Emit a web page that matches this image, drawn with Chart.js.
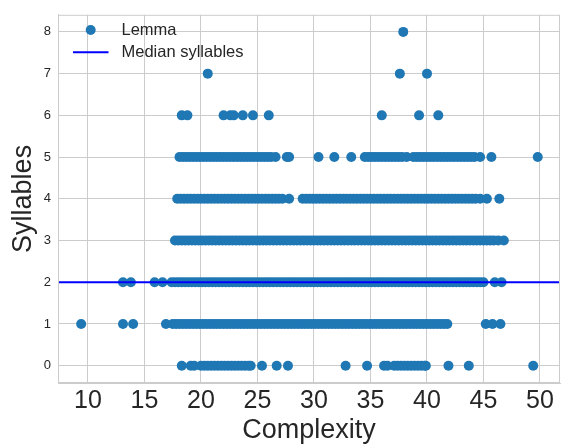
<!DOCTYPE html>
<html>
<head>
<meta charset="utf-8">
<script src="https://cdn.jsdelivr.net/npm/chart.js@4"></script>
<style>
  html, body { margin: 0; padding: 0; background: #fff; }
  #wrap { width: 565px; height: 445px; }
</style>
</head>
<body>
<div id="wrap"><canvas id="myChart" width="565" height="445"></canvas></div>
<script>
// complexity values of the lemmas, one list per syllable count
// (dense bands read as closely packed runs of points)
const syl0 = [18.3, 19.1, 19.4,
  20.0, 20.3, 20.6, 20.9, 21.2, 21.5, 21.8, 22.1, 22.4, 22.7, 23.0, 23.3, 23.6, 23.9, 24.2, 24.4,
  25.4, 26.7, 27.7, 32.8, 34.7, 36.2, 36.5,
  37.1, 37.4, 37.7, 38.0, 38.3, 38.6, 38.9, 39.2, 39.5, 39.8, 39.9,
  41.9, 43.7, 49.4];
const syl1 = [9.4, 13.1, 14.0, 16.9,
  17.5, 17.8, 18.1, 18.4, 18.7, 19.0, 19.3, 19.6, 19.9, 20.2, 20.5, 20.8, 21.1, 21.4, 21.7, 22.0,
  22.3, 22.6, 22.9, 23.2, 23.5, 23.8, 24.1, 24.4, 24.7, 25.0, 25.3, 25.6, 25.9, 26.2, 26.5, 26.8,
  27.1, 27.4, 27.7, 28.0, 28.3, 28.6, 28.9, 29.2, 29.5, 29.8, 30.1, 30.4, 30.7, 31.0, 31.3, 31.6,
  31.9, 32.2, 32.5, 32.8, 33.1, 33.4, 33.7, 34.0, 34.3, 34.6, 34.9, 35.2, 35.5, 35.8, 36.1, 36.4,
  36.7, 37.0, 37.3, 37.6, 37.9, 38.2, 38.5, 38.8, 39.1, 39.4, 39.7, 40.0, 40.3, 40.6, 40.9, 41.2,
  41.5, 41.8,
  45.2, 45.8, 46.5];
const syl2 = [13.1, 13.8, 15.9, 16.6,
  17.4, 17.7, 18.0, 18.3, 18.6, 18.9, 19.2, 19.5, 19.8, 20.1, 20.4, 20.7, 21.0, 21.3, 21.6, 21.9,
  22.2, 22.5, 22.8, 23.1, 23.4, 23.7, 24.0, 24.3, 24.6, 24.9, 25.2, 25.5, 25.8, 26.1, 26.4, 26.7,
  27.0, 27.3, 27.6, 27.9, 28.2, 28.5, 28.8, 29.1, 29.4, 29.7, 30.0, 30.3, 30.6, 30.9, 31.2, 31.5,
  31.8, 32.1, 32.4, 32.7, 33.0, 33.3, 33.6, 33.9, 34.2, 34.5, 34.8, 35.1, 35.4, 35.7, 36.0, 36.3,
  36.6, 36.9, 37.2, 37.5, 37.8, 38.1, 38.4, 38.7, 39.0, 39.3, 39.6, 39.9, 40.2, 40.5, 40.8, 41.1,
  41.4, 41.7, 42.0, 42.3, 42.6, 42.9, 43.2, 43.5, 43.8, 44.1, 44.4, 44.7, 45.0,
  46.0, 46.6];
const syl3 = [
  17.7, 18.0, 18.3, 18.6, 18.9, 19.2, 19.5, 19.8, 20.1, 20.4, 20.7, 21.0, 21.3, 21.6, 21.9,
  22.2, 22.5, 22.8, 23.1, 23.4, 23.7, 24.0, 24.3, 24.6, 24.9, 25.2, 25.5, 25.8, 26.1, 26.4, 26.7,
  27.0, 27.3, 27.6, 27.9, 28.2, 28.5, 28.8, 29.1, 29.4, 29.7, 30.0, 30.3, 30.6, 30.9, 31.2, 31.5,
  31.8, 32.1, 32.4, 32.7, 33.0, 33.3, 33.6, 33.9, 34.2, 34.5, 34.8, 35.1, 35.4, 35.7, 36.0, 36.3,
  36.6, 36.9, 37.2, 37.5, 37.8, 38.1, 38.4, 38.7, 39.0, 39.3, 39.6, 39.9, 40.2, 40.5, 40.8, 41.1,
  41.4, 41.7, 42.0, 42.3, 42.6, 42.9, 43.2, 43.5, 43.8, 44.1, 44.4, 44.7, 45.0, 45.3, 45.6, 45.9,
  46.3, 46.8];
const syl4 = [
  17.9, 18.2, 18.5, 18.8, 19.1, 19.4, 19.7, 20.0, 20.3, 20.6, 20.9, 21.2, 21.5, 21.8, 22.1, 22.4,
  22.7, 23.0, 23.3, 23.6, 23.9, 24.2, 24.5, 24.8, 25.1, 25.4, 25.7, 26.0, 26.3, 26.6, 26.9, 27.2,
  27.8,
  29.0, 29.3, 29.6, 29.9, 30.2, 30.5, 30.8, 31.1, 31.4, 31.7, 32.0, 32.3, 32.6, 32.9, 33.2, 33.5,
  33.8, 34.1, 34.4, 34.7, 35.0, 35.3, 35.6, 35.9, 36.2, 36.5, 36.8, 37.1, 37.4, 37.7, 38.0, 38.3,
  38.6, 38.9, 39.2, 39.5, 39.8, 40.1, 40.4, 40.7, 41.0, 41.3, 41.6, 41.9, 42.2, 42.5, 42.8, 43.1,
  43.4, 43.7, 44.0, 44.3, 44.7,
  45.3, 46.4];
const syl5 = [
  18.1, 18.4, 18.7, 19.0, 19.3, 19.6, 19.9, 20.2, 20.5, 20.8, 21.1, 21.4, 21.7, 22.0, 22.3, 22.6,
  22.9, 23.2, 23.5, 23.8, 24.1, 24.4, 24.7, 25.0, 25.3, 25.6, 25.9, 26.2, 26.6,
  27.6, 27.8, 30.4, 31.8, 33.3,
  34.5, 34.8, 35.1, 35.4, 35.7, 36.0, 36.3, 36.6, 36.9, 37.2, 37.5, 37.8, 38.2,
  38.8, 39.1, 39.4, 39.7, 40.0, 40.3, 40.6, 40.9, 41.2, 41.5, 41.8, 42.1, 42.4, 42.7, 43.0, 43.3,
  43.6, 43.9, 44.2, 44.7,
  45.7, 49.8];
const syl6 = [18.3, 18.8, 22.0, 22.6, 22.9, 23.7, 24.6, 26.0, 36.0, 39.3, 41.0];
const syl7 = [20.6, 37.6, 40.0];
const syl8 = [37.9];
const sylRows = [syl0, syl1, syl2, syl3, syl4, syl5, syl6, syl7, syl8];

const medianSyllables = 2;
const xTicks = [10, 15, 20, 25, 30, 35, 40, 45, 50];
const yTicks = [0, 1, 2, 3, 4, 5, 6, 7, 8];
const xMin = 7.35, xMax = 51.77;
const yMin = -0.415, yMax = 8.41;

const lemmaPoints = [];
sylRows.forEach(function(row, n) {
  row.forEach(function(c) { lemmaPoints.push({x: c, y: n}); });
});

const FONT = "'Liberation Sans', Arial, sans-serif";
const TXT = '#262626';
const GRID = '#cccccc';

// top/right frame and the legend (matplotlib draws it inside the axes, no frame)
const frameAndLegend = {
  id: 'frameAndLegend',
  afterDraw(chart) {
    const ctx = chart.ctx, a = chart.chartArea;
    ctx.save();
    ctx.strokeStyle = GRID;
    ctx.lineWidth = 1;
    ctx.strokeRect(a.left + 0.5, a.top + 0.5, a.right - a.left - 1, a.bottom - a.top - 1);

    ctx.fillStyle = '#1f77b4';
    ctx.beginPath();
    ctx.arc(90.7, 30, 5, 0, Math.PI * 2);
    ctx.fill();
    ctx.strokeStyle = '#0000ff';
    ctx.lineWidth = 2;
    ctx.beginPath();
    ctx.moveTo(73, 52.3);
    ctx.lineTo(108.5, 52.3);
    ctx.stroke();

    ctx.fillStyle = TXT;
    ctx.font = '16.5px ' + FONT;
    ctx.textBaseline = 'middle';
    ctx.textAlign = 'left';
    ctx.fillText('Lemma', 121.5, 30);
    ctx.fillText('Median syllables', 121.5, 52.3);
    ctx.restore();
  }
};

const ctx = document.getElementById('myChart').getContext('2d');
const myChart = new Chart(ctx, {
  type: 'scatter',
  data: {
    datasets: [{
      type: 'line',
      label: 'Median syllables',
      data: [{x: xMin, y: medianSyllables}, {x: xMax, y: medianSyllables}],
      borderColor: '#0000ff',
      borderWidth: 2,
      pointRadius: 0,
      order: 0
    }, {
      label: 'Lemma',
      data: lemmaPoints,
      backgroundColor: '#1f77b4',
      borderWidth: 0,
      pointRadius: 5,
      pointHoverRadius: 5,
      order: 1
    }]
  },
  options: {
    responsive: false,
    animation: false,
    events: [],
    layout: { padding: { top: 7, right: 3, left: 0, bottom: 0 } },
    plugins: { legend: { display: false }, tooltip: { enabled: false } },
    scales: {
      x: {
        type: 'linear',
        min: xMin,
        max: xMax,
        afterBuildTicks: function(axis) { axis.ticks = xTicks.map(function(v) { return {value: v}; }); },
        afterFit: function(axis) { axis.height = 62; },
        grid: { color: GRID, lineWidth: 1, drawTicks: false },
        border: { color: GRID, width: 1 },
        ticks: { color: TXT, font: { family: FONT, size: 25 }, padding: 3, maxRotation: 0 },
        title: { display: true, text: 'Complexity', color: TXT,
          font: { family: FONT, size: 27, lineHeight: 1 }, padding: { top: 0, bottom: 1 } }
      },
      y: {
        type: 'linear',
        min: yMin,
        max: yMax,
        afterBuildTicks: function(axis) { axis.ticks = yTicks.map(function(v) { return {value: v}; }); },
        afterFit: function(axis) { axis.width = 58; },
        grid: { color: GRID, lineWidth: 1, drawTicks: false },
        border: { color: GRID, width: 1 },
        ticks: { color: TXT, font: { family: FONT, size: 13 }, padding: 7 },
        title: { display: true, text: 'Syllables', color: TXT,
          font: { family: FONT, size: 27, lineHeight: 1 }, padding: { top: 10, bottom: 0 } }
      }
    }
  },
  plugins: [frameAndLegend]
});
</script>
</body>
</html>
